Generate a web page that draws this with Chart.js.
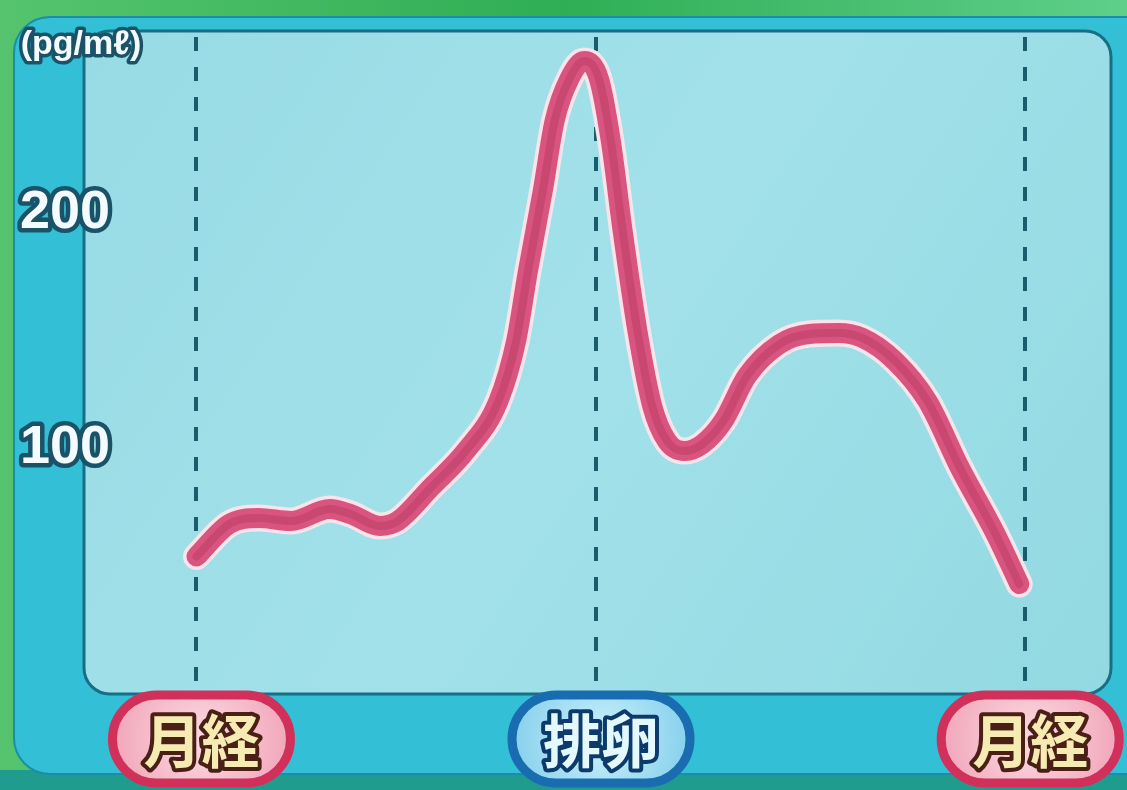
<!DOCTYPE html>
<html lang="ja">
<head>
<meta charset="UTF-8">
<title>エストロゲン</title>
<script src="https://cdn.jsdelivr.net/npm/chart.js"></script>
<style>
  html, body { margin: 0; padding: 0; background: #2fae55; }
  #box { width: 1127px; height: 790px; position: relative; }
</style>
</head>
<body>
<div id="box"><canvas id="myChart"></canvas></div>

<script>
// day of cycle (0 = 月経, 28 = next 月経) and level in pg/mℓ
const days = [0, 1.1, 2.1, 3.2, 4.5, 5.2, 6.2, 6.8, 7.9, 9.1, 10.2, 10.8, 11.2, 11.7, 12.1, 12.6, 13.1,
              13.6, 14.0, 14.4, 14.9, 15.4, 15.9, 16.5, 17.1, 17.8, 18.6, 19.7, 20.7, 21.7, 22.5,
              23.6, 24.7, 25.8, 27.0, 27.8];
const levels = [53, 66.8, 69.4, 68.1, 73.2, 71.1, 66.0, 68.1, 82.1, 97.9, 119.1, 144.7, 174.5, 208.5, 238.3, 256.2, 263.8,
                256.2, 229.8, 191.5, 148.9, 117.0, 102.1, 97.9, 100.9, 110.6, 129.8, 143.4, 147.7, 148.1, 146.0,
                136.2, 119.1, 90.6, 62.6, 41.3];

const markerDays = [0, 13.5, 28];
const markerLabels = ['月経', '排卵', '月経'];
const yTicks = [100, 200];
const unitLabel = '(pg/mℓ)';

const points = days.map((d, i) => ({ x: d, y: levels[i] }));

function roundRect(c, x, y, w, h, r) {
  c.beginPath();
  c.moveTo(x + r, y);
  c.arcTo(x + w, y, x + w, y + h, r);
  c.arcTo(x + w, y + h, x, y + h, r);
  c.arcTo(x, y + h, x, y, r);
  c.arcTo(x, y, x + w, y, r);
  c.closePath();
}

function outlinedText(c, txt, x, y, fill, stroke, lw) {
  c.lineJoin = 'round';
  c.lineWidth = lw;
  c.strokeStyle = stroke;
  c.strokeText(txt, x, y);
  c.fillStyle = fill;
  c.fillText(txt, x, y);
}

const decor = {
  id: 'decor',
  beforeDraw(chart) {
    const c = chart.ctx;
    const a = chart.chartArea;
    const W = chart.width, H = chart.height;
    c.save();
    // green backdrop
    let g = c.createLinearGradient(0, 0, W, 0);
    g.addColorStop(0, '#56c46f');
    g.addColorStop(0.5, '#2fae55');
    g.addColorStop(1, '#5fcf8a');
    c.fillStyle = g;
    c.fillRect(0, 0, W, H);
    c.fillStyle = '#1f9c8e';
    c.fillRect(0, 770, W, H - 770);
    // cyan frame
    c.fillStyle = '#33bfd5';
    roundRect(c, 14, 17, W + 20, 757, 36);
    c.fill();
    c.strokeStyle = '#1a8ea8';
    c.lineWidth = 2;
    c.stroke();
    // inner panel
    g = c.createLinearGradient(a.left, a.top, a.right, a.bottom);
    g.addColorStop(0, '#98dbe5');
    g.addColorStop(0.5, '#a2e1e9');
    g.addColorStop(1, '#92d9e2');
    c.fillStyle = g;
    roundRect(c, a.left, a.top, a.right - a.left, a.bottom - a.top, 26);
    c.fill();
    c.strokeStyle = '#176f86';
    c.lineWidth = 3;
    c.stroke();
    c.restore();
  },
  beforeDatasetsDraw(chart) {
    const c = chart.ctx;
    const a = chart.chartArea;
    const xs = chart.scales.x;
    c.save();
    c.strokeStyle = '#1b5c6c';
    c.lineWidth = 4;
    c.setLineDash([14, 16]);
    markerDays.forEach(d => {
      const px = Math.round(xs.getPixelForValue(d));
      c.beginPath();
      c.moveTo(px, a.top + 6);
      c.lineTo(px, a.bottom - 10);
      c.stroke();
    });
    c.restore();
  },
  afterDraw(chart) {
    const c = chart.ctx;
    const xs = chart.scales.x;
    const ys = chart.scales.y;
    c.save();
    c.textAlign = 'center';
    c.textBaseline = 'middle';
    // y tick labels
    c.font = 'bold 54px "Liberation Sans", Arial, sans-serif';
    yTicks.forEach(v => {
      outlinedText(c, String(v), 65, ys.getPixelForValue(v) + 2, '#f4fbff', '#1a5368', 9);
    });
    // unit
    c.font = 'bold 34px "Liberation Sans", Arial, sans-serif';
    outlinedText(c, unitLabel, 81, 45, '#f4fbff', '#1a5368', 7);
    // badges
    markerLabels.forEach((lab, i) => {
      const cx = xs.getPixelForValue(markerDays[i]) + 5;
      const cy = 739;
      const w = 178, h = 88;
      const ovu = lab === '排卵';
      roundRect(c, cx - w / 2, cy - h / 2, w, h, h / 2);
      const g = c.createRadialGradient(cx, cy, 10, cx, cy, w / 2);
      g.addColorStop(0, ovu ? '#c6eefa' : '#fbd6de');
      g.addColorStop(1, ovu ? '#86d0ec' : '#f1a6ba');
      c.fillStyle = g;
      c.fill();
      c.lineWidth = 9;
      c.strokeStyle = ovu ? '#1a6cb0' : '#d1305a';
      c.stroke();
      c.font = 'bold 58px "Noto Sans CJK JP", sans-serif';
      outlinedText(c, lab, cx, cy + 2, ovu ? '#e4f8ff' : '#f7ebb4', ovu ? '#0c3a6a' : '#4a2016', 8);
    });
    c.restore();
  }
};

const ctx = document.getElementById('myChart');
const chart = new Chart(ctx, {
  type: 'line',
  data: {
    datasets: [
      {
        label: 'outline',
        data: points,
        borderColor: '#f8e4ea',
        borderWidth: 27,
        cubicInterpolationMode: 'monotone',
        pointRadius: 0,
        borderCapStyle: 'round',
        borderJoinStyle: 'round',
        order: 3
      },
      {
        label: 'エストロゲン',
        data: points,
        borderColor: '#d9547f',
        borderWidth: 20,
        cubicInterpolationMode: 'monotone',
        pointRadius: 0,
        borderCapStyle: 'round',
        borderJoinStyle: 'round',
        order: 2
      },
      {
        label: 'core',
        data: points,
        borderColor: 'rgba(176, 56, 96, 0.4)',
        borderWidth: 8,
        cubicInterpolationMode: 'monotone',
        pointRadius: 0,
        borderCapStyle: 'round',
        order: 1
      }
    ]
  },
  options: {
    responsive: true,
    maintainAspectRatio: false,
    animation: false,
    layout: { padding: { left: 84, right: 16, top: 31, bottom: 96 } },
    plugins: { legend: { display: false }, tooltip: { enabled: false } },
    scales: {
      x: { type: 'linear', min: -3.8, max: 30.9, display: false },
      y: { min: -5.5, max: 276.6, display: false }
    }
  },
  plugins: [decor]
});
</script>
</body>
</html>
